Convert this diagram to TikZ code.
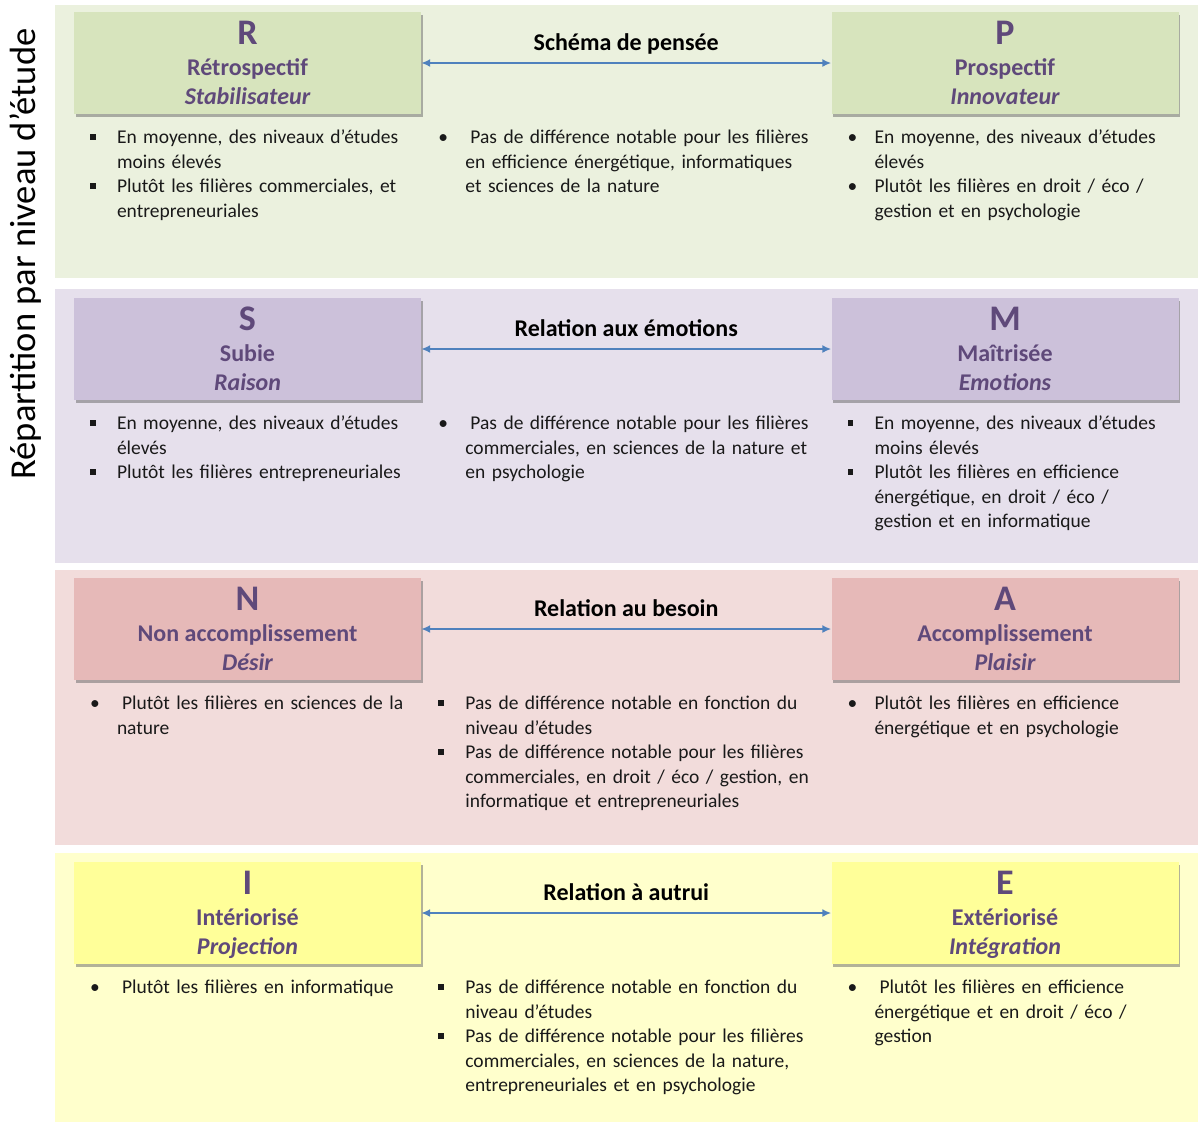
\documentclass[tikz,border=0pt]{standalone}
\usepackage{fontspec}
\setmainfont{Carlito}
\usepackage{enumitem}
\usepackage{tikz}
\usetikzlibrary{arrows.meta,positioning,shadows}

\definecolor{greenband}{HTML}{EBF1DE}
\definecolor{greenbox}{HTML}{D7E4BD}
\definecolor{lilacband}{HTML}{E6E0EC}
\definecolor{lilacbox}{HTML}{CCC1DA}
\definecolor{pinkband}{HTML}{F2DCDB}
\definecolor{pinkbox}{HTML}{E6B9B8}
\definecolor{yellowband}{HTML}{FFFFCC}
\definecolor{yellowbox}{HTML}{FFFF99}
\definecolor{cardpurple}{HTML}{5F497A}
\definecolor{axisblue}{HTML}{4F81BD}

\newcommand{\sqbul}{\rule[0.21em]{0.3em}{0.3em}}
\newlist{sqlist}{itemize}{1}
\setlist[sqlist]{label=\sqbul, nosep, leftmargin=27pt, labelwidth=27pt, labelsep=0pt, itemindent=0pt, align=left}
\newlist{rdlist}{itemize}{1}
\setlist[rdlist]{label=\textbullet, nosep, leftmargin=27pt, labelwidth=27pt, labelsep=0pt, itemindent=0pt, align=left}

% letter, title and subtitle inside a card
\newcommand{\cardtext}[4]{%
  \node[lettertxt] (#1-l) at ([yshift=-33pt]#1.north) {#2};
  \node[titletxt] (#1-t) at ([yshift=-64pt]#1.north) {#3};
  \node[subtxt] (#1-s) at ([yshift=-93pt]#1.north) {#4};}

\begin{document}
\begin{tikzpicture}[
  x=1pt, y=-1pt,
  card/.style={rectangle, inner sep=0pt, minimum width=347pt, minimum height=102pt,
    drop shadow={shadow xshift=1.5pt, shadow yshift=-3pt, opacity=0.5, fill=black!60}},
  lettertxt/.style={anchor=base, inner sep=0pt, text=cardpurple, font=\fontsize{36}{36}\selectfont\bfseries},
  titletxt/.style={anchor=base, inner sep=0pt, text=cardpurple, font=\fontsize{24}{28}\selectfont\bfseries},
  subtxt/.style={titletxt, font=\fontsize{24}{28}\selectfont\bfseries\itshape},
  notes/.style={inner sep=0pt, text width=430pt, font=\fontsize{19.5}{24.4}\selectfont, text=black!90},
  dualarr/.style={{Latex[length=9pt,width=8pt]}-{Latex[length=9pt,width=8pt]}, line width=1.8pt, axisblue},
  arrlabel/.style={anchor=base, yshift=13pt, inner sep=0pt, text=black, font=\fontsize{24}{28}\selectfont\bfseries}
]
\useasboundingbox (0,0) rectangle (1198,1122);
\fill[white] (0,0) rectangle (1198,1122);

% Bands
\fill[greenband] (55,5) rectangle (1198,278);
\fill[lilacband] (55,289) rectangle (1198,563);
\fill[pinkband] (55,570) rectangle (1198,845);
\fill[yellowband] (55,853) rectangle (1198,1122);

% Side title
\node[rotate=90, font=\fontsize{36.5}{40}\selectfont] (side) at (26,254) {Répartition par niveau d’étude};

% Band 1: schéma de pensée
\node[card, fill=greenbox] (R) at (247.5,63) {};
\node[card, fill=greenbox] (P) at (1005,63) {};
\cardtext{R}{R}{Rétrospectif}{Stabilisateur}
\cardtext{P}{P}{Prospectif}{Innovateur}
\draw[dualarr] (R) -- node[arrlabel] (R-lab) {Schéma de pensée} (P);

\node[notes, below right=5pt and 16pt of R.south west] (R-notes) {%
\begin{sqlist}
\item En moyenne, des niveaux d’études\newline moins élevés
\item Plutôt les filières commerciales, et\newline entrepreneuriales
\end{sqlist}};
\node[notes, below right=5pt and 17pt of R.south east] (RP-notes) {%
\begin{rdlist}
\item \hspace{5pt}Pas de différence notable pour les filières\newline en efficience énergétique, informatiques\newline et sciences de la nature
\end{rdlist}};
\node[notes, below right=5pt and 16pt of P.south west] (P-notes) {%
\begin{rdlist}
\item En moyenne, des niveaux d’études\newline élevés
\item Plutôt les filières en droit / éco /\newline gestion et en psychologie
\end{rdlist}};

% Band 2: relation aux émotions
\node[card, fill=lilacbox] (S) at (247.5,349) {};
\node[card, fill=lilacbox] (M) at (1005,349) {};
\cardtext{S}{S}{Subie}{Raison}
\cardtext{M}{M}{Maîtrisée}{Emotions}
\draw[dualarr] (S) -- node[arrlabel] (S-lab) {Relation aux émotions} (M);

\node[notes, below right=5pt and 16pt of S.south west] (S-notes) {%
\begin{sqlist}
\item En moyenne, des niveaux d’études\newline élevés
\item Plutôt les filières entrepreneuriales
\end{sqlist}};
\node[notes, below right=5pt and 17pt of S.south east] (SM-notes) {%
\begin{rdlist}
\item \hspace{5pt}Pas de différence notable pour les filières\newline commerciales, en sciences de la nature et\newline en psychologie
\end{rdlist}};
\node[notes, below right=5pt and 16pt of M.south west] (M-notes) {%
\begin{sqlist}
\item En moyenne, des niveaux d’études\newline moins élevés
\item Plutôt les filières en efficience\newline énergétique, en droit / éco /\newline gestion et en informatique
\end{sqlist}};

% Band 3: relation au besoin
\node[card, fill=pinkbox] (N) at (247.5,629) {};
\node[card, fill=pinkbox] (A) at (1005,629) {};
\cardtext{N}{N}{Non accomplissement}{Désir}
\cardtext{A}{A}{Accomplissement}{Plaisir}
\draw[dualarr] (N) -- node[arrlabel] (N-lab) {Relation au besoin} (A);

\node[notes, below right=5pt and 16pt of N.south west] (N-notes) {%
\begin{rdlist}
\item \hspace{5pt}Plutôt les filières en sciences de la\newline nature
\end{rdlist}};
\node[notes, below right=5pt and 17pt of N.south east] (NA-notes) {%
\begin{sqlist}
\item Pas de différence notable en fonction du\newline niveau d’études
\item Pas de différence notable pour les filières\newline commerciales, en droit / éco / gestion, en\newline informatique et entrepreneuriales
\end{sqlist}};
\node[notes, below right=5pt and 16pt of A.south west] (A-notes) {%
\begin{rdlist}
\item Plutôt les filières en efficience\newline énergétique et en psychologie
\end{rdlist}};

% Band 4: relation à autrui
\node[card, fill=yellowbox] (I) at (247.5,913) {};
\node[card, fill=yellowbox] (E) at (1005,913) {};
\cardtext{I}{I}{Intériorisé}{Projection}
\cardtext{E}{E}{Extériorisé}{Intégration}
\draw[dualarr] (I) -- node[arrlabel] (I-lab) {Relation à autrui} (E);

\node[notes, below right=5pt and 16pt of I.south west] (I-notes) {%
\begin{rdlist}
\item \hspace{5pt}Plutôt les filières en informatique
\end{rdlist}};
\node[notes, below right=5pt and 17pt of I.south east] (IE-notes) {%
\begin{sqlist}
\item Pas de différence notable en fonction du\newline niveau d’études
\item Pas de différence notable pour les filières\newline commerciales, en sciences de la nature,\newline entrepreneuriales et en psychologie
\end{sqlist}};
\node[notes, below right=5pt and 16pt of E.south west] (E-notes) {%
\begin{rdlist}
\item \hspace{5pt}Plutôt les filières en efficience\newline énergétique et en droit / éco /\newline gestion
\end{rdlist}};

\end{tikzpicture}
\end{document}
